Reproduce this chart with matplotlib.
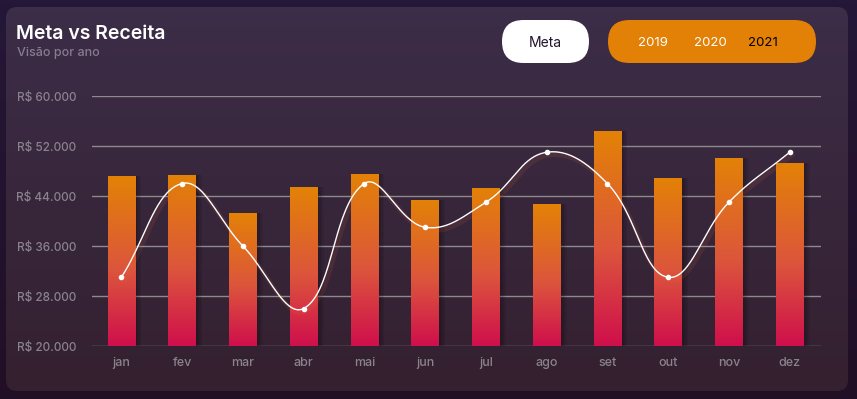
import numpy as np
import matplotlib
matplotlib.use('Agg')
import matplotlib.pyplot as plt
from matplotlib.patches import FancyBboxPatch
from matplotlib.colors import LinearSegmentedColormap
import matplotlib.patheffects as pe

months = ['jan', 'fev', 'mar', 'abr', 'mai', 'jun', 'jul', 'ago', 'set', 'out', 'nov', 'dez']
receita = [47200, 47400, 41300, 45400, 47500, 43400, 45300, 42700, 54400, 46900, 50100, 49300]
meta = [31000, 46000, 36000, 26000, 46000, 39000, 43000, 51000, 46000, 31000, 43000, 51000]
yticks = [20000, 28000, 36000, 44000, 52000, 60000]
ytick_labels = ['R$ 20.000', 'R$ 28.000', 'R$ 36.000', 'R$ 44.000', 'R$ 52.000', 'R$ 60.000']
years = ['2019', '2020', '2021']

plt.rcParams['font.family'] = ['Inter', 'DejaVu Sans']

W, H = 857, 399
fig = plt.figure(figsize=(W / 100, H / 100), dpi=100)

# background + card, drawn in pixel coordinates
bg = fig.add_axes([0, 0, 1, 1])
bg.set_xlim(0, W)
bg.set_ylim(H, 0)
bg.axis('off')
outer = LinearSegmentedColormap.from_list('outer', ['#251737', '#210f25'])
bg.imshow(np.linspace(0, 1, 100).reshape(-1, 1), cmap=outer, aspect='auto',
          extent=(0, W, H, 0), zorder=0)
card = FancyBboxPatch((6, 7), 842, 384, boxstyle='round,pad=0,rounding_size=11',
                      facecolor='none', edgecolor='none', zorder=1)
bg.add_patch(card)
cardmap = LinearSegmentedColormap.from_list('card', ['#3c2d48', '#34202f'])
im = bg.imshow(np.linspace(0, 1, 100).reshape(-1, 1), cmap=cardmap, aspect='auto',
               extent=(6, 848, 391, 7), zorder=1)
im.set_clip_path(card)

bg.text(16, 34, 'Meta vs Receita', color='white', fontsize=14, fontweight='semibold',
        va='center', ha='left')
bg.text(17, 53, 'Visão por ano', color='#877c8f', fontsize=9, fontweight='medium',
        va='center', ha='left')

# pill buttons
bg.add_patch(FancyBboxPatch((502, 20), 87, 43, boxstyle='round,pad=0,rounding_size=21.5',
                            facecolor='white', edgecolor='none', zorder=2))
bg.text(545.5, 43, 'Meta', color='#24142c', fontsize=10, ha='center', va='center', zorder=3)
bg.add_patch(FancyBboxPatch((608, 20), 208, 43, boxstyle='round,pad=0,rounding_size=21.5',
                            facecolor='#e38006', edgecolor='none', zorder=2))
for yr, xc in zip(years, [653, 710, 763]):
    bg.text(xc, 43, yr, color='black' if yr == '2021' else 'white', fontsize=9.5,
            ha='center', va='center', zorder=3)

# chart
ax = fig.add_axes([91.6 / W, 53 / H, 729 / W, 250 / H])
ax.set_facecolor('none')
x = np.arange(len(months))
for s in ax.spines.values():
    s.set_visible(False)
ax.set_yticks(yticks)
ax.set_yticklabels(ytick_labels)
ax.set_xticks(x)
ax.set_xticklabels(months)
ax.tick_params(axis='y', length=0, pad=11, labelsize=8.5, labelcolor='#8a838e')
ax.tick_params(axis='x', length=0, pad=8, labelsize=9, labelcolor='#8a838e')
for lbl in ax.get_yticklabels():
    lbl.set_fontweight('medium')
for lbl in ax.get_xticklabels():
    lbl.set_fontweight('medium')
ax.grid(axis='y', color='#8e8a8c', linewidth=1)
ax.set_axisbelow(True)

# bar shadows
for k in range(4):
    ax.bar(x + 0.03 + 0.025 * k, receita, width=0.45, color='black', alpha=0.07,
           zorder=1.5, edgecolor='none')

barmap = LinearSegmentedColormap.from_list(
    'bar', [(0, '#cf0f4c'), (0.45, '#dc553c'), (1, '#e38206')])
bars = ax.bar(x, receita, width=0.45, color='#e06020', edgecolor='none', zorder=2)
grad = np.linspace(0, 1, 256).reshape(-1, 1)
for b in bars:
    gi = ax.imshow(grad, cmap=barmap, aspect='auto', origin='lower', zorder=2.1,
                   extent=(b.get_x(), b.get_x() + b.get_width(), 20000, b.get_height()))
    gi.set_clip_path(b)
ax.set_xlim(-0.49, 11.51)
ax.set_ylim(20000, 60000)

# smooth meta line (Chart.js-like tension spline, in pixel-scaled space)
px = x * 60.8
py = np.array(meta) / 160.0
t = 0.4
cp_prev, cp_next = [], []
n = len(px)
for i in range(n):
    p0 = np.array([px[max(i - 1, 0)], py[max(i - 1, 0)]])
    p1 = np.array([px[i], py[i]])
    p2 = np.array([px[min(i + 1, n - 1)], py[min(i + 1, n - 1)]])
    d01 = np.hypot(*(p1 - p0))
    d12 = np.hypot(*(p2 - p1))
    s01 = d01 / (d01 + d12)
    s12 = d12 / (d01 + d12)
    cp_prev.append(p1 - t * s01 * (p2 - p0))
    cp_next.append(p1 + t * s12 * (p2 - p0))
cx, cy = [], []
u = np.linspace(0, 1, 40)[:, None]
for i in range(n - 1):
    a = np.array([px[i], py[i]])
    b = cp_next[i]
    c = cp_prev[i + 1]
    d = np.array([px[i + 1], py[i + 1]])
    seg = (1 - u) ** 3 * a + 3 * (1 - u) ** 2 * u * b + 3 * (1 - u) * u ** 2 * c + u ** 3 * d
    cx.extend(seg[:, 0] / 60.8)
    cy.extend(seg[:, 1] * 160.0)
ax.plot(cx, cy, color='white', linewidth=1.0, zorder=4,
        path_effects=[pe.SimpleLineShadow(offset=(1.5, -2), shadow_color='#e06a35',
                                          alpha=0.12, linewidth=3.5), pe.Normal()])
ax.plot(x, meta, 'o', color='white', markersize=3, zorder=5)

fig.savefig('out.png', dpi=100)
